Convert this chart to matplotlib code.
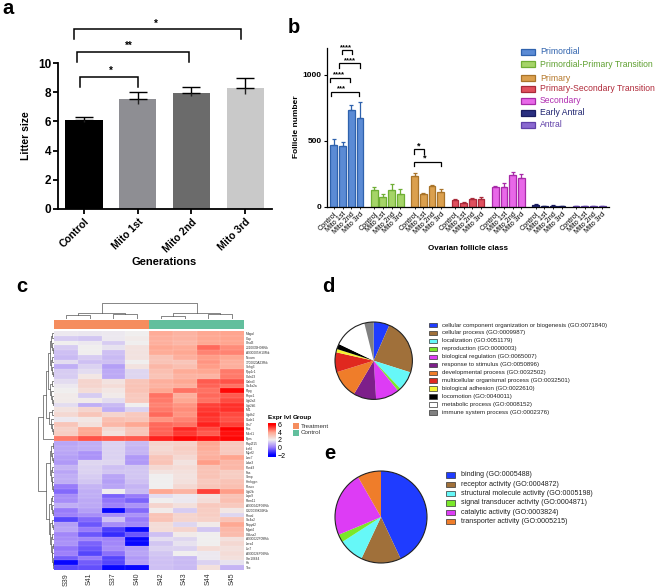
import numpy as np
import matplotlib
matplotlib.use("Agg")
import matplotlib.pyplot as plt
from matplotlib.colors import LinearSegmentedColormap, Normalize
from matplotlib.patches import Circle, Rectangle

plt.rcParams['font.family'] = ['Liberation Sans', 'DejaVu Sans']

W, H = 657, 587

# panel a
gen_labels = ["Control", "Mito 1st", "Mito 2nd", "Mito 3rd"]
litter_mean = [6.1, 7.5, 7.97, 8.29]
litter_err = [0.22, 0.5, 0.4, 0.68]
litter_colors = ["#000000", "#8e8e93", "#6b6b6b", "#c9c9c9"]

# panel b
follicle_classes = ["Primordial", "Primordial-Primary Transition", "Primary",
                    "Primary-Secondary Transition", "Secondary", "Early Antral", "Antral"]
follicle_mean = [
    [468, 460, 729, 671],
    [125, 78, 125, 100],
    [232, 95, 155, 115],
    [50, 33, 60, 60],
    [148, 152, 240, 218],
    [18, 6, 11, 8],
    [8, 4, 4, 4],
]
follicle_top = [
    [511, 494, 770, 792],
    [152, 101, 170, 139],
    [258, 103, 168, 133],
    [58, 40, 67, 73],
    [162, 180, 265, 248],
    [25, 8, 15, 10],
    [11, 5, 5, 5],
]
follicle_fill = ["#5b8bd5", "#a5d468", "#dba04e", "#e0505e", "#e868e8", "#2a2f80", "#8a68d0"]
follicle_edge = ["#2f62ad", "#6fae35", "#a9742a", "#a92a3a", "#a82aa8", "#1a1c60", "#6040a8"]
follicle_text = ["#2f62ad", "#5fa030", "#b5782a", "#b02a3a", "#b02ab0", "#1f2470", "#6040a8"]

# panel c
samples = ["S39", "S41", "S37", "S40", "S42", "S43", "S44", "S45"]
gene_labels = ["Mbgal", "Cap", "Ctsd3", "2310039H08Rik", "A930005H10Rik", "Nrcam", "1700020A23Rik",
               "Snhg3", "Ppp1r1", "Cldn23", "Galnt3", "Slc4a2a", "Ptpg", "Rnpc1", "Ugt2a3",
               "Ugt2b5", "Mt1", "Ugdh2", "Csde1", "Cts7", "Fos", "Mbnl1", "Eprs",
               "Rap2l15", "Ikzf4", "Myef2", "Lrrc7", "Lrba3", "Pank3", "Fas", "Stmp",
               "Hnrkgpn", "Pknox", "Ugt2b", "Lrpc9", "Rbm11", "A930042F09Rik", "C920039K09Rik",
               "Rnasl", "Slc4a2", "Nkpyd2", "Mgat4", "Cdkna2", "A930022F09Rik", "Lars4", "Lin7",
               "A930026P09Rik", "Gm10644", "Hk", "Tnc"]
expr = [
    [1.9, 1.85, 1.9, 2.0, 3.8, 3.6, 3.9, 4.0],
    [1.4, 1.3, 1.9, 2.1, 3.7, 3.6, 3.9, 4.0],
    [2.0, 1.9, 1.4, 2.0, 3.7, 3.5, 3.9, 4.0],
    [1.4, 2.0, 1.8, 2.3, 3.9, 3.8, 4.7, 4.3],
    [1.2, 2.0, 1.2, 2.3, 3.8, 3.9, 4.4, 4.4],
    [1.1, 1.4, 1.1, 2.3, 3.2, 3.7, 4.1, 3.9],
    [1.7, 1.2, 1.2, 2.0, 3.2, 3.1, 4.2, 3.7],
    [0.9, 1.5, 0.6, 2.3, 3.5, 3.3, 4.1, 3.7],
    [1.4, 1.7, 0.8, 1.6, 3.3, 3.8, 3.9, 4.5],
    [1.4, 2.2, 0.8, 1.6, 3.2, 3.6, 3.6, 4.5],
    [1.7, 2.7, 2.3, 3.1, 3.7, 3.9, 4.9, 5.0],
    [1.9, 2.7, 2.5, 3.2, 3.6, 3.7, 4.8, 4.6],
    [2.0, 2.5, 2.2, 3.2, 3.9, 4.6, 4.6, 5.9],
    [2.1, 1.4, 2.1, 3.0, 4.6, 3.7, 4.7, 4.9],
    [2.1, 2.1, 1.7, 3.0, 4.5, 3.9, 4.6, 5.1],
    [1.7, 0.9, 1.1, 2.0, 4.4, 4.2, 5.2, 5.4],
    [2.3, 2.7, 0.9, 1.5, 4.5, 4.3, 5.3, 5.4],
    [2.6, 3.1, 2.7, 3.0, 4.7, 4.2, 5.4, 5.1],
    [1.9, 2.2, 3.3, 3.1, 4.2, 4.4, 5.3, 5.0],
    [3.1, 2.4, 3.5, 3.9, 4.7, 4.6, 5.6, 5.2],
    [2.8, 3.9, 2.6, 3.1, 4.8, 5.5, 5.1, 6.0],
    [2.9, 3.9, 2.4, 3.1, 4.8, 5.3, 4.9, 5.8],
    [4.5, 5.0, 4.9, 4.9, 5.6, 5.9, 5.8, 5.9],
    [0.7, 0.9, 1.5, 1.1, 2.7, 2.8, 3.9, 3.0],
    [0.8, 0.9, 1.5, 1.0, 2.6, 2.9, 3.8, 3.0],
    [0.7, 0.4, 1.5, 1.0, 2.7, 2.8, 3.6, 3.0],
    [0.6, 0.4, 1.5, 0.5, 3.1, 2.6, 3.7, 4.0],
    [0.5, 1.6, 1.6, 0.5, 3.2, 2.3, 4.1, 3.5],
    [1.0, 1.5, 1.2, 1.3, 2.6, 2.5, 3.2, 3.5],
    [0.7, 1.5, 1.3, 1.3, 2.3, 2.4, 3.2, 2.9],
    [0.9, 1.4, 0.7, 1.3, 2.0, 2.3, 3.2, 2.9],
    [0.9, 1.3, 0.6, 1.2, 2.0, 2.4, 3.0, 3.2],
    [0.0, 1.0, 0.7, 1.0, 2.0, 2.6, 3.1, 3.3],
    [-0.3, 0.9, 2.0, 1.1, 3.9, 3.6, 5.2, 4.1],
    [0.3, 0.9, -0.4, 0.0, 1.7, 1.9, 2.4, 3.2],
    [0.3, 0.8, -0.1, -0.4, 2.0, 1.9, 2.5, 3.3],
    [0.9, 0.8, 0.1, 0.4, 2.7, 2.4, 3.0, 3.0],
    [0.0, 0.6, -1.9, -0.3, 2.1, 1.4, 2.9, 2.2],
    [0.1, 0.3, 0.3, 0.4, 3.2, 2.7, 2.9, 1.6],
    [-0.9, -0.3, 1.2, 0.0, 3.2, 2.7, 2.8, 3.2],
    [0.6, -0.6, 0.3, 0.2, 2.5, 1.6, 2.1, 3.9],
    [0.7, 0.0, -1.0, -1.9, 2.5, 2.7, 1.3, 3.5],
    [0.2, -0.6, -1.3, -0.6, 1.2, 2.1, 2.0, 3.4],
    [0.3, 0.2, 0.1, -1.9, 1.7, 1.6, 2.0, 2.4],
    [0.4, -0.4, 0.2, -1.9, 1.3, 1.8, 2.0, 2.6],
    [-0.1, -0.6, 0.3, 0.6, 1.5, 1.5, 2.5, 2.4],
    [0.1, -0.9, -0.2, 0.7, 1.3, 2.0, 1.9, 2.5],
    [-0.5, 0.0, -0.9, 0.5, 1.2, 1.1, 1.9, 2.4],
    [-1.9, -0.5, -0.9, 0.6, 1.2, 1.1, 1.5, 1.8],
    [-0.8, -0.7, -1.9, -1.9, 1.2, 1.1, 2.4, 1.0],
]
sample_group = [0, 0, 0, 0, 1, 1, 1, 1]
group_names = ["Treatment", "Control"]
group_colors = ["#f58d5e", "#62bf9d"]

# dendrograms as (height, left, right), a plain int is a leaf
col_tree = (48, (17, (13, 0, 1), (15, 2, 3)), (18, (10, 4, 5), (14, 6, 7)))
u1 = (4, (2.5, (1.2, 0, 1), (1.5, 2, (0.8, 3, 4))), (3, (1.5, 5, 6), (2, 7, (1, 8, 9))))
u2 = (3.5, (1.5, 10, 11), (2.5, 12, (1.5, 13, (1, 14, 15))))
u3 = (4.5, (1.5, 16, 17), (3, 18, (2, 19, (1, 20, 21))))
l1 = (4, (2.5, (1, 23, 24), (1.5, 25, (1, 26, 27))), (3, (1.5, 28, 29), (2, 30, (1.2, 31, (0.8, 32, 33)))))
l2 = (4.5, (3, (1.5, 34, 35), (2, 36, (1, 37, 38))), (3.5, (2, 39, (1, 40, 41)), (2.5, (1.2, 42, 43), (1.8, (1, 44, 45), (1.4, 46, (1, 47, (0.7, 48, 49)))))))
row_tree = (16, (10.7, (7.3, (5.5, u1, u2), u3), 22), (7.3, l1, l2))

# panel d
bio_names = ["cellular component organization or biogenesis (GO:0071840)", "cellular process (GO:0009987)",
             "localization (GO:0051179)", "reproduction (GO:0000003)", "biological regulation (GO:0065007)",
             "response to stimulus (GO:0050896)", "developmental process (GO:0032502)",
             "multicellular organismal process (GO:0032501)", "biological adhesion (GO:0022610)",
             "locomotion (GO:0040011)", "metabolic process (GO:0008152)", "immune system process (GO:0002376)"]
bio_share = [6.6, 23.3, 8.0, 1.3, 9.8, 9.5, 11.7, 8.3, 1.4, 2.2, 14.0, 3.9]
bio_colors = ["#1f3cff", "#a0703a", "#66f8f8", "#7ae82a", "#dd3cf5", "#7d1f8a",
              "#ef7d2a", "#e0281f", "#f5f532", "#000000", "#ffffff", "#808080"]

# panel e
mol_names = ["binding (GO:0005488)", "receptor activity (GO:0004872)",
             "structural molecule activity (GO:0005198)", "signal transducer activity (GO:0004871)",
             "catalytic activity (GO:0003824)", "transporter activity (GO:0005215)"]
mol_share = [43.0, 14.0, 8.9, 2.8, 23.0, 8.3]
mol_colors = ["#1f3cff", "#a0703a", "#66f8f8", "#7ae82a", "#dd3cf5", "#ef7d2a"]


def ax_px(x0, y0, x1, y1):
    return fig.add_axes([x0 / W, 1 - y1 / H, (x1 - x0) / W, (y1 - y0) / H])


def bracket(ax, x0, x1, top, bottom, label, label_x, label_y, size):
    ax.plot([x0, x0, x1, x1], [bottom, top, top, bottom], color="black", lw=ax_lw,
            clip_on=False, solid_joinstyle="miter")
    ax.text(label_x, label_y, label, ha="center", va="center", fontsize=size,
            fontweight="bold", clip_on=False)


def draw_tree(ax, node, horizontal):
    # returns (position, height) of the node
    if isinstance(node, int):
        return node + 0.5, 0
    h, left, right = node
    p0, h0 = draw_tree(ax, left, horizontal)
    p1, h1 = draw_tree(ax, right, horizontal)
    xs, ys = [p0, p0, p1, p1], [h0, h, h, h1]
    if horizontal:
        ax.plot(xs, ys, color="#555555", lw=0.5)
    else:
        ax.plot(ys, xs, color="#555555", lw=0.5)
    return (p0 + p1) / 2, h


fig = plt.figure(figsize=(W / 100, H / 100), dpi=100)

# overlay in pixel coordinates for panel letters and legends
ov = fig.add_axes([0, 0, 1, 1], zorder=10)
ov.set_xlim(0, W)
ov.set_ylim(H, 0)
ov.axis("off")
for letter, x, y in [("a", 2, 14), ("b", 288, 33), ("c", 16, 292), ("d", 322, 292), ("e", 324, 459)]:
    ov.text(x, y, letter, fontsize=14.5, fontweight="bold", va="baseline")

# a
ax_lw = 1.3
ax = ax_px(58, 63, 272, 209)
ax.bar(range(4), litter_mean, width=0.69, color=litter_colors)
ax.errorbar(range(4), litter_mean, yerr=[[0] * 4, litter_err], fmt="none", ecolor="black",
            elinewidth=1, capsize=6.5, capthick=1)
ax.vlines(range(4), np.array(litter_mean) - np.array(litter_err) * 0.6, litter_mean, color="#222222", lw=1)
ax.set_xlim(-0.484, 3.5)
ax.set_ylim(0, 10)
ax.set_yticks([0, 2, 4, 6, 8, 10])
ax.set_xticks(range(4))
ax.set_xticklabels(gen_labels, rotation=45, ha="right", rotation_mode="anchor", fontsize=7.5, fontweight="bold")
ax.tick_params(axis="y", labelsize=8.5, width=ax_lw, length=3.5, pad=1.5)
ax.tick_params(axis="x", width=ax_lw, length=3.5, pad=2)
for t in ax.get_yticklabels():
    t.set_fontweight("bold")
for s in ["top", "right"]:
    ax.spines[s].set_visible(False)
for s in ["left", "bottom"]:
    ax.spines[s].set_linewidth(ax_lw)
ax.set_ylabel("Litter size", fontsize=7.5, fontweight="bold", labelpad=5)
ov.text(164, 262, "Generations", fontsize=8, fontweight="bold", ha="center", va="center")
ax_lw = 1.1
bracket(ax, -0.19, 2.92, 12.3, 11.64, "*", 1.33, 12.7, 7)
bracket(ax, -0.13, 1.96, 10.75, 10.07, "**", 0.83, 11.2, 7)
bracket(ax, -0.07, 1.0, 9.05, 8.36, "*", 0.5, 9.45, 7)

# b
ax = ax_px(327, 48, 609, 207)
group_step = 4.65
tick_x, tick_lab = [], []
for g in range(7):
    xs = g * group_step + np.arange(4)
    mean = np.array(follicle_mean[g])
    top = np.array(follicle_top[g])
    ax.bar(xs, mean, width=0.8, color=follicle_fill[g], edgecolor=follicle_edge[g], linewidth=0.9)
    ax.errorbar(xs, mean, yerr=[np.zeros(4), top - mean], fmt="none", ecolor=follicle_edge[g],
                elinewidth=0.9, capsize=1.7, capthick=0.9)
    tick_x.extend(xs)
    tick_lab.extend(gen_labels)
ax.set_xlim(-0.8, 31.7)
ax.set_ylim(0, 1200)
ax.set_yticks([0, 500, 1000])
ax.set_xticks(tick_x)
ax.set_xticklabels(tick_lab, rotation=45, ha="right", rotation_mode="anchor", fontsize=5.2)
ax.tick_params(axis="y", labelsize=6, width=0.8, length=2.5, pad=1.5)
ax.tick_params(axis="x", width=0.6, length=1.5, pad=1)
for t in ax.get_yticklabels():
    t.set_fontweight("bold")
for s in ["top", "right"]:
    ax.spines[s].set_visible(False)
for s in ["left", "bottom"]:
    ax.spines[s].set_linewidth(0.9)
ov.text(296, 127, "Follicle number", fontsize=6, fontweight="bold", rotation=90, ha="center", va="center")
ov.text(468, 249, "Ovarian follicle class", fontsize=5.8, fontweight="bold", ha="center", va="center")
ax_lw = 0.9
bracket(ax, 0.88, 2.04, 1185, 1157, "****", 1.38, 1205, 5.5)
bracket(ax, 0.62, 3.04, 1084, 1051, "****", 1.85, 1105, 5.5)
bracket(ax, -0.42, 1.88, 975, 942, "****", 0.62, 1000, 5.5)
bracket(ax, -0.31, 2.92, 868, 835, "***", 0.92, 893, 5.5)
bracket(ax, 9.23, 10.35, 435, 403, "*", 9.73, 460, 6.5)
bracket(ax, 9.23, 12.3, 342, 309, "*", 10.5, 367, 6.5)

legend_b_y = [51.7, 64.3, 78.3, 88.7, 100.7, 112.7, 124.7]
for name, y, fc, ec, tc in zip(follicle_classes, legend_b_y, follicle_fill, follicle_edge, follicle_text):
    ov.add_patch(Rectangle((521, y - 3), 14, 6, facecolor=fc, edgecolor=ec, lw=0.9))
    ov.text(540, y, name, color=tc, fontsize=6.25, va="center")

# c
nodes = [(-2.5, "#0000ff"), (-2, "#0000ff"), (0, "#9a7cfa"), (2, "#f0eeee"), (4, "#ffa58f"), (6, "#ff0000"), (6.4, "#ff0000")]
vmin, vmax = -2.5, 6.4
hm_cmap = LinearSegmentedColormap.from_list("expr", [((v - vmin) / (vmax - vmin), c) for v, c in nodes])
norm = Normalize(vmin, vmax)

ax = ax_px(54, 331, 244, 570)
ax.pcolormesh(np.array(expr), cmap=hm_cmap, norm=norm, edgecolors="none")
ax.hlines(range(1, len(expr)), 0, 8, color="white", lw=0.3, alpha=0.3)
ax.vlines(range(1, 8), 0, len(expr), color="white", lw=0.3, alpha=0.3)
ax.set_ylim(len(expr), 0)
ax.set_xticks(np.arange(8) + 0.5)
ax.set_xticklabels(samples, rotation=90, fontsize=5, color="#333333")
ax.yaxis.tick_right()
ax.set_yticks(np.arange(len(expr)) + 0.5)
ax.set_yticklabels(gene_labels, fontsize=2.3, color="#333333")
ax.tick_params(length=0, pad=1.5)
ax.tick_params(axis="x", pad=2)
for s in ax.spines.values():
    s.set_visible(False)

ax = ax_px(54, 320, 244, 329)
for i, g in enumerate(sample_group):
    ax.bar(i + 0.5, 1, width=1, color=group_colors[g])
ax.set_xlim(0, 8)
ax.set_ylim(0, 1)
ax.axis("off")

ax = ax_px(54, 302, 244, 319)
draw_tree(ax, col_tree, True)
ax.set_xlim(0, 8)
ax.set_ylim(0, 50)
ax.axis("off")

ax = ax_px(37, 331, 53.5, 570)
draw_tree(ax, row_tree, False)
ax.set_ylim(len(expr), 0)
ax.set_xlim(16.5, 0)
ax.axis("off")

cax = ax_px(268, 423, 276, 457)
cb = fig.colorbar(plt.cm.ScalarMappable(norm=norm, cmap=hm_cmap), cax=cax, ticks=[-2, 0, 2, 4, 6])
cb.outline.set_visible(False)
cax.tick_params(length=0, labelsize=5, pad=1.5)
ov.text(268, 418, "Expr lvl", fontsize=4.6, fontweight="bold", va="center")
ov.text(293, 418, "Group", fontsize=4.6, fontweight="bold", va="center")
for name, color, y in zip(group_names, group_colors, [423, 430]):
    ov.add_patch(Rectangle((293, y), 6, 6, facecolor=color, edgecolor="none"))
    ov.text(301, y + 3, name, fontsize=4.5, va="center", color="#333333")


# d, e
def pie_panel(cx, cy, r, share, colors):
    a = ax_px(cx - r - 2, cy - r - 2, cx + r + 2, cy + r + 2)
    a.pie(share, colors=colors, startangle=90, counterclock=False, radius=r)
    a.add_patch(Circle((0, 0), r, fill=False, edgecolor="#222222", lw=0.8))
    a.set_xlim(-r - 2, r + 2)
    a.set_ylim(-r - 2, r + 2)
    a.set_aspect("equal")


pie_panel(373.7, 360.7, 38.7, bio_share, bio_colors)
for i, (name, c) in enumerate(zip(bio_names, bio_colors)):
    y = 325 + i * 7.97
    ov.add_patch(Rectangle((428.5, y - 2.3), 8.5, 4.6, facecolor=c, edgecolor="#333333", lw=0.5))
    ov.text(441.6, y, name, fontsize=4.42, va="center", color="#222222")

pie_panel(381, 517, 46, mol_share, mol_colors)
for i, (name, c) in enumerate(zip(mol_names, mol_colors)):
    y = 475 + i * 9.33
    ov.add_patch(Rectangle((445.5, y - 2.6), 9.5, 5.2, facecolor=c, edgecolor="#333333", lw=0.5))
    ov.text(460.7, y, name, fontsize=5.1, va="center", color="#222222")

fig.savefig("out.png", dpi=100)
